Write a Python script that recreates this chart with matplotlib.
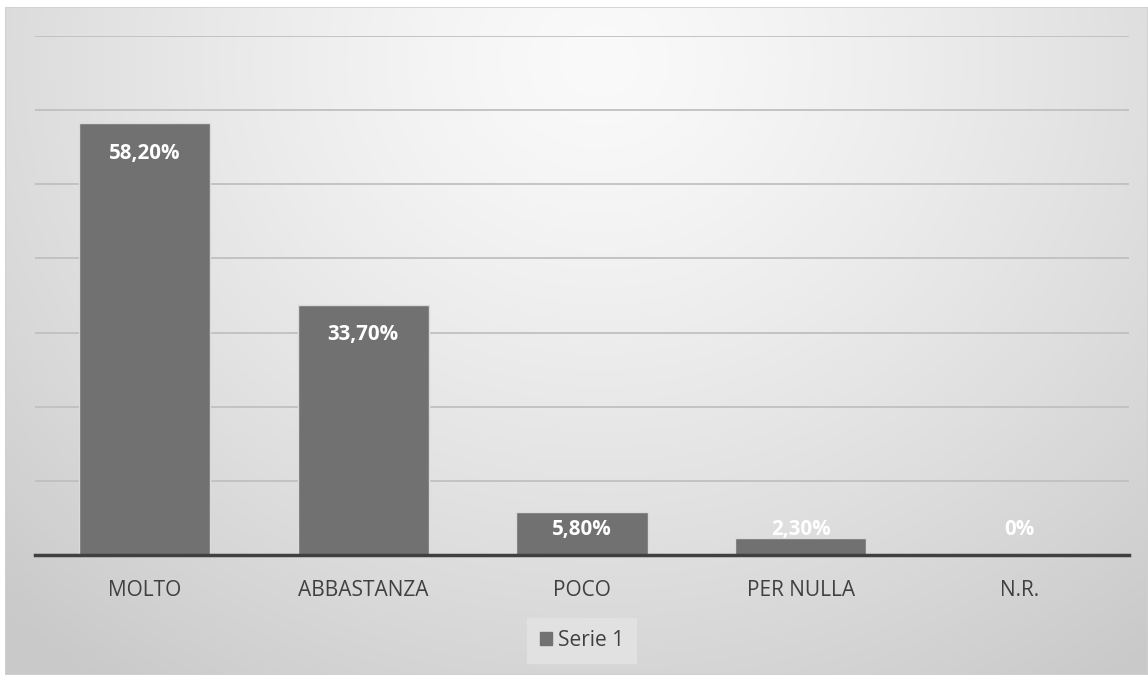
import matplotlib
matplotlib.use('Agg')
import matplotlib.pyplot as plt
import numpy as np
from matplotlib.patches import Rectangle

plt.rcParams['font.family'] = ['Open Sans', 'DejaVu Sans']

# dati del grafico
categorie = ['MOLTO', 'ABBASTANZA', 'POCO', 'PER NULLA', 'N.R.']
valori = [58.2, 33.7, 5.8, 2.3, 0.0]
etichette = ['58,20%', '33,70%', '5,80%', '2,30%', '0%']
nome_serie = 'Serie 1'

fig = plt.figure(figsize=(11.48, 6.75), dpi=100)
fig.patch.set_facecolor('white')

# sfondo con sfumatura radiale (area del grafico)
bg = fig.add_axes([5 / 1148, 0, 1 - 5 / 1148, 1 - 7 / 675])
bg.set_axis_off()
yy, xx = np.mgrid[0:1:300j, 0:1:500j]
d = np.sqrt(((xx - 0.52) / 0.75) ** 2 + ((yy - 0.08) / 1.15) ** 2)
d = np.clip(d, 0, 1)
grigio = 0.98 - 0.19 * d ** 1.3
img = np.dstack([grigio, grigio, grigio])
bg.imshow(img, extent=[0, 1, 0, 1], origin='upper', aspect='auto', zorder=0)
bg.add_patch(Rectangle((0, 0), 1, 1, fill=False, edgecolor='#d0d0d0', linewidth=1.2,
                       transform=bg.transAxes))
bg.set_xlim(0, 1)
bg.set_ylim(0, 1)

# area del tracciato
ax = fig.add_axes([35 / 1148, 1 - 555 / 675, (1129 - 35) / 1148, (555 - 36) / 675])
ax.patch.set_alpha(0)
x = np.arange(len(categorie))
ax.bar(x, valori, width=0.6, color='#717171', edgecolor='#dadada', linewidth=1.0, zorder=3)
ax.set_xlim(-0.5, len(categorie) - 0.5)
ax.set_ylim(0, 70)
ax.set_yticks(np.arange(10, 71, 10))
ax.yaxis.grid(True, color='#c0c0c0', linewidth=1.3, zorder=0)
ax.tick_params(axis='y', left=False, labelleft=False)
ax.tick_params(axis='x', length=0, pad=18, labelsize=15, labelcolor='#404040')
ax.set_xticks(x)
ax.set_xticklabels(categorie)
for s in ['top', 'right', 'left']:
    ax.spines[s].set_visible(False)
ax.spines['bottom'].set_color('#404040')
ax.spines['bottom'].set_linewidth(2.5)
ax.spines['bottom'].set_zorder(5)

# etichette dei dati
for xi, v, lab in zip(x, valori, etichette):
    ypos = max(v - 4.0, 3.4)
    ax.text(xi, ypos, lab, ha='center', va='center', color='white',
            fontsize=14.8, fontweight='bold', zorder=6)

# legenda
leg = ax.legend([Rectangle((0, 0), 1, 1, color='#717171')], [nome_serie],
                loc='center', bbox_to_anchor=(0.5, -0.165), frameon=True,
                fontsize=15, handlelength=0.6, handleheight=0.6, handletextpad=0.3,
                borderpad=0.6, fancybox=False)
leg.get_frame().set_facecolor('#e4e4e4')
leg.get_frame().set_edgecolor('none')
for t in leg.get_texts():
    t.set_color('#404040')

fig.savefig('out.png', dpi=100)
